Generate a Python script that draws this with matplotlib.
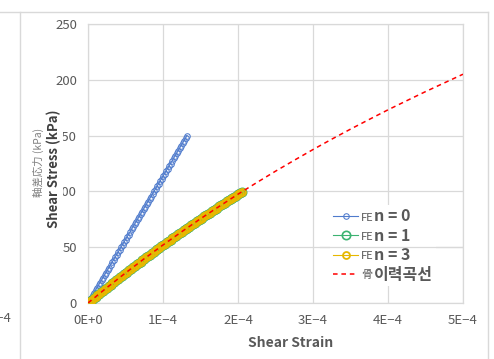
import matplotlib
matplotlib.use('Agg')
import matplotlib.pyplot as plt
from matplotlib.lines import Line2D
import numpy as np

plt.rcParams['font.family'] = ['Noto Sans CJK KR', 'DejaVu Sans']

# strain in units of 1E-4, stress in kPa
strain_n0 = [0.00, 0.02, 0.04, 0.06, 0.08, 0.10, 0.12, 0.14, 0.16, 0.18, 0.20, 0.22,
             0.24, 0.26, 0.28, 0.30, 0.32, 0.34, 0.36, 0.38, 0.40, 0.42, 0.44, 0.46,
             0.48, 0.50, 0.52, 0.54, 0.56, 0.58, 0.60, 0.62, 0.64, 0.66, 0.68, 0.70,
             0.72, 0.74, 0.76, 0.78, 0.80, 0.82, 0.84, 0.86, 0.88, 0.90, 0.92, 0.94,
             0.96, 0.98, 1.00, 1.02, 1.04, 1.06, 1.08, 1.10, 1.12, 1.14, 1.16, 1.18,
             1.20, 1.22, 1.24, 1.26, 1.28, 1.30, 1.32]
stress_n0 = [0.0, 2.3, 4.5, 6.8, 9.1, 11.4, 13.6, 15.9, 18.2, 20.4, 22.7, 25.0,
             27.3, 29.5, 31.8, 34.1, 36.4, 38.6, 40.9, 43.2, 45.4, 47.7, 50.0, 52.3,
             54.5, 56.8, 59.1, 61.3, 63.6, 65.9, 68.2, 70.4, 72.7, 75.0, 77.2, 79.5,
             81.8, 84.1, 86.3, 88.6, 90.9, 93.2, 95.4, 97.7, 100.0, 102.2, 104.5, 106.8,
             109.1, 111.3, 113.6, 115.9, 118.1, 120.4, 122.7, 125.0, 127.2, 129.5, 131.8, 134.0,
             136.3, 138.6, 140.9, 143.1, 145.4, 147.7, 150.0]

strain_n13 = [0.000, 0.025, 0.050, 0.075, 0.100, 0.125, 0.150, 0.175, 0.200, 0.225,
              0.250, 0.275, 0.300, 0.325, 0.350, 0.375, 0.400, 0.425, 0.450, 0.475,
              0.500, 0.525, 0.550, 0.575, 0.600, 0.625, 0.650, 0.675, 0.700, 0.725,
              0.750, 0.775, 0.800, 0.825, 0.850, 0.875, 0.900, 0.925, 0.950, 0.975,
              1.000, 1.025, 1.050, 1.075, 1.100, 1.125, 1.150, 1.175, 1.200, 1.225,
              1.250, 1.275, 1.300, 1.325, 1.350, 1.375, 1.400, 1.425, 1.450, 1.475,
              1.500, 1.525, 1.550, 1.575, 1.600, 1.625, 1.650, 1.675, 1.700, 1.725,
              1.750, 1.775, 1.800, 1.825, 1.850, 1.875, 1.900, 1.925, 1.950, 1.975,
              2.000, 2.025, 2.050]
stress_n3 = [0.0, 1.4, 2.8, 4.1, 5.5, 6.9, 8.3, 9.6, 11.0, 12.3,
             13.7, 15.0, 16.4, 17.7, 19.0, 20.3, 21.7, 23.0, 24.3, 25.6,
             26.9, 28.2, 29.5, 30.7, 32.0, 33.3, 34.6, 35.8, 37.1, 38.4,
             39.7, 40.9, 42.1, 43.4, 44.6, 45.8, 47.1, 48.3, 49.5, 50.7,
             52.0, 53.2, 54.4, 55.6, 56.8, 58.0, 59.2, 60.3, 61.5, 62.7,
             63.9, 65.0, 66.2, 67.3, 68.5, 69.7, 70.9, 72.0, 73.1, 74.3,
             75.5, 76.6, 77.7, 78.8, 79.9, 81.0, 82.2, 83.3, 84.4, 85.5,
             86.6, 87.7, 88.8, 89.9, 91.0, 92.0, 93.1, 94.2, 95.3, 96.3,
             97.4, 98.5, 99.5]
# n = 1 lies on top of n = 3 in the picture; same readings
stress_n1 = list(stress_n3)

strain_bb = [0.00, 0.25, 0.50, 0.75, 1.00, 1.25, 1.50, 1.75, 2.00, 2.25, 2.50,
             2.75, 3.00, 3.25, 3.50, 3.75, 4.00, 4.25, 4.50, 4.75, 5.00]
stress_bb = [0.0, 13.7, 26.9, 39.7, 52.0, 63.9, 75.5, 86.6, 97.5, 107.9, 118.1,
             127.9, 137.5, 146.8, 155.8, 164.5, 173.1, 181.3, 189.4, 197.2, 205.0]

x_ticks = [0, 1, 2, 3, 4, 5]
x_ticklabels = ['0E+0', '1E\u22124', '2E\u22124', '3E\u22124', '4E\u22124', '5E\u22124']
y_ticks = [0, 50, 100, 150, 200, 250]

W, H = 494, 359
grid_c = '#D9D9D9'
txt_c = '#595959'

fig = plt.figure(figsize=(W / 100, H / 100), dpi=100)
ax = fig.add_axes([88 / W, 1 - 303 / H, 375 / W, 279 / H])

sc = 1e-4
ax.plot(np.array(strain_n0) * sc, stress_n0, color='#4F7BCC', lw=0.8, marker='o',
        ms=4, mfc='none', mew=0.75, label='n = 0', zorder=3)
ax.plot(np.array(strain_n13) * sc, stress_n1, color='#3CB371', lw=0.8, marker='o',
        ms=6, mfc='none', mew=1.2, label='n = 1', zorder=3)
ax.plot(np.array(strain_n13) * sc, stress_n3, color='#E6B800', lw=0.8, marker='o',
        ms=5, mfc='none', mew=1.3, label='n = 3', zorder=3)
ax.plot(np.array(strain_bb) * sc, stress_bb, color='#FF0000', lw=1.1,
        ls=(0, (3, 2.5)), label='이력곡선', zorder=4)

ax.set_xlim(0, 5e-4)
ax.set_ylim(0, 250)
ax.set_xticks(np.array(x_ticks) * sc)
ax.set_xticklabels(x_ticklabels)
ax.set_yticks(y_ticks)
ax.tick_params(length=0, labelsize=9.5, labelcolor=txt_c, pad=8)
ax.grid(True, color=grid_c, lw=0.9)
ax.set_axisbelow(True)
for s in ax.spines.values():
    s.set_color(grid_c)
    s.set_linewidth(0.9)

leg = ax.legend(loc='upper left', bbox_to_anchor=(330 / W, 1 - 205 / H),
                bbox_transform=fig.transFigure, frameon=True, fancybox=False,
                edgecolor='none', facecolor='white', framealpha=1,
                handlelength=1.55, handletextpad=1.0, labelspacing=0.22,
                borderpad=0.2, borderaxespad=0,
                prop={'weight': 'bold', 'size': 11.5})
for t in leg.get_texts():
    t.set_color(txt_c)
ax.axhline(50, xmin=(320 - 88) / 375, xmax=1, color=grid_c, lw=0.9, zorder=6)

# small prefixes in legend
for yy, s in [(218, 'FE'), (237, 'FE'), (256, 'FE'), (275, '骨')]:
    fig.text(361 / W, 1 - yy / H, s, fontsize=8, color=txt_c, va='center', ha='left')

# background frame of neighbouring chart
fig.add_artist(Line2D([0, 488 / W], [1 - 12 / H] * 2, transform=fig.transFigure, color=grid_c, lw=1))
fig.add_artist(Line2D([20 / W] * 2, [0, 1 - 12 / H], transform=fig.transFigure, color=grid_c, lw=1))
fig.add_artist(Line2D([488 / W] * 2, [0, 1 - 12 / H], transform=fig.transFigure, color=grid_c, lw=1))
fig.text(12 / W, 1 - 318 / H, '5E\u22124', fontsize=9.5, color=txt_c, ha='right', va='center')

fig.text(291 / W, 1 - 343 / H, 'Shear Strain', fontsize=10, fontweight='bold',
         color=txt_c, ha='center', va='center')
fig.text(54 / W, 1 - 169 / H, 'Shear Stress (kPa)', fontsize=9.5, fontweight='bold',
         color='#404040', rotation=90, ha='center', va='center',
         bbox=dict(facecolor='white', edgecolor='none', pad=1.5))
fig.text(38 / W, 1 - 162 / H, '軸差応力 (kPa)', fontsize=7.5, color='#7F7F7F',
         rotation=90, ha='center', va='center')

fig.savefig('out.png', dpi=100)
